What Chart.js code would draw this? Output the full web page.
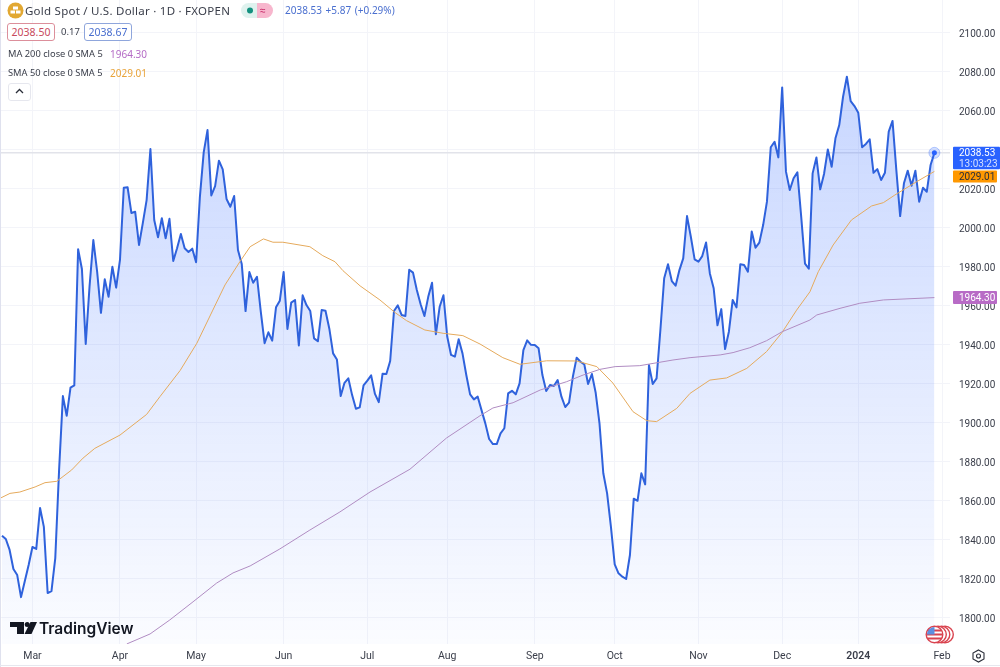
<!DOCTYPE html>
<html lang="en">
<head>
<meta charset="UTF-8">
<title>Gold Spot / U.S. Dollar</title>
<script src="https://cdn.jsdelivr.net/npm/chart.js"></script>
<style>
    html, body { margin: 0; padding: 0; background: #fff; }
    #wrap { position: relative; width: 1000px; height: 667px; overflow: hidden; font-family: "Noto Sans", sans-serif; color: #3a3e4a; }
    #wrap canvas { position: absolute; left: 0; top: 0; }
    .t { position: absolute; white-space: nowrap; line-height: 14px; }
    .box { position: absolute; height: 16px; line-height: 16px; text-align: center; border: 1px solid; border-radius: 3px; font-size: 10.5px; background: #fff; }
    #leftEdge { position: absolute; left: 0; top: 0; width: 1px; height: 667px; background: #dfe1ee; }
    #bottomEdge { position: absolute; left: 0; top: 665px; width: 1000px; height: 1px; background: #e6e7ee; }
</style>
</head>
<body>
<div id="wrap">
    <canvas id="goldChart" width="1000" height="667"></canvas>
    <div id="leftEdge"></div>
    <div id="bottomEdge"></div>

    <svg style="position:absolute;left:7px;top:2px" width="17" height="17" viewBox="0 0 17 17">
        <circle cx="8.5" cy="8.5" r="8" fill="#e2a832"/>
        <rect x="6" y="4.5" width="5" height="3" fill="#fff"/>
        <rect x="3.5" y="8.5" width="4.5" height="3" fill="#fff"/>
        <rect x="9" y="8.5" width="4.5" height="3" fill="#fff"/>
    </svg>
    <div class="t" style="left:25px;top:4px;font-size:11.5px;letter-spacing:.25px">Gold Spot / U.S. Dollar · 1D · FXOPEN</div>
    <svg style="position:absolute;left:241px;top:3px" width="32" height="15" viewBox="0 0 32 15">
        <path d="M7.5 0H16V15H7.5A7.5 7.5 0 0 1 7.5 0Z" fill="#dff2ee"/>
        <path d="M16 0H24.5A7.5 7.5 0 0 1 24.5 15H16Z" fill="#f7b6cd"/>
        <circle cx="9" cy="7.5" r="3" fill="#14917f"/>
    </svg>
    <div class="t" style="left:260px;top:3px;font-size:10px;color:#c2185b">≈</div>
    <div class="t" style="left:285px;top:3px;font-size:10px;color:#4a6fcf;word-spacing:1px">2038.53 +5.87 (+0.29%)</div>

    <div class="box" style="left:7px;top:23px;width:46px;color:#c84a5c;border-color:#dc8f9b">2038.50</div>
    <div class="t" style="left:61px;top:25px;font-size:9.5px">0.17</div>
    <div class="box" style="left:84px;top:23px;width:46px;color:#4a6fcf;border-color:#8fa6dc">2038.67</div>

    <div class="t" style="left:8px;top:47px;font-size:9.3px">MA 200 close 0 SMA 5</div>
    <div class="t" style="left:110px;top:47px;font-size:10px;color:#b56cc6">1964.30</div>
    <div class="t" style="left:8px;top:66px;font-size:9.3px">SMA 50 close 0 SMA 5</div>
    <div class="t" style="left:110px;top:66px;font-size:10px;color:#e8a33a">2029.01</div>
    <div style="position:absolute;left:8px;top:83px;width:21px;height:16px;border:1px solid #e6e7ee;border-radius:3px;background:#fff"></div>
    <svg style="position:absolute;left:15px;top:88px" width="9" height="6" viewBox="0 0 9 6">
        <path d="M1 5L4.5 1.5L8 5" fill="none" stroke="#2a2e39" stroke-width="1.3"/>
    </svg>

    <svg style="position:absolute;left:10px;top:621px" width="27" height="14" viewBox="0 0 27 14">
        <path d="M0 1H14V13H7V6H0Z" fill="#131722"/>
        <circle cx="17.2" cy="3.5" r="2.5" fill="#131722"/>
        <path d="M20.5 1H27L21.5 13H14.5Z" fill="#131722"/>
    </svg>
    <div class="t" style="left:39px;top:620px;line-height:18px;font-family:Inter,sans-serif;font-size:15.5px;font-weight:600;color:#131722">TradingView</div>

    <svg style="position:absolute;left:925px;top:625px" width="30" height="19" viewBox="0 0 30 19">
        <circle cx="20" cy="9.5" r="8.3" fill="#fff" stroke="#d9434f" stroke-width="1.4"/>
        <circle cx="16.5" cy="9.5" r="8.3" fill="#fff" stroke="#d9434f" stroke-width="1.4"/>
        <circle cx="13" cy="9.5" r="8.3" fill="#fff" stroke="#d9434f" stroke-width="1.4"/>
        <circle cx="9.5" cy="9.5" r="8.3" fill="#fff" stroke="#d9434f" stroke-width="1.4"/>
        <path d="M2.5 5.5H16.5M1.6 9.5H17.4M2.5 13.5H16.5" stroke="#d9434f" stroke-width="1.8"/>
        <path d="M9.5 1.9A7.6 7.6 0 0 0 2 9.5H9.5Z" fill="#5d8fe0"/>
    </svg>
    <svg style="position:absolute;left:972px;top:649px" width="13" height="14" viewBox="0 0 13 14">
        <path d="M6.5 1L12 4V10L6.5 13L1 10V4Z" fill="none" stroke="#2a2e39" stroke-width="1.1"/>
        <circle cx="6.5" cy="7" r="2" fill="none" stroke="#2a2e39" stroke-width="1.1"/>
    </svg>
</div>

<script>
// daily closes
const closes = [
    1842.2, 1840.5, 1834.9, 1825.1, 1822.0, 1810.7, 1819.0, 1827.2, 1836.4, 1835.4,
    1856.4, 1846.7, 1812.8, 1813.8, 1830.7, 1875.9, 1913.8, 1903.7, 1918.1, 1919.3,
    1989.1, 1979.0, 1940.5, 1969.9, 1993.8, 1977.6, 1956.5, 1973.7, 1964.7, 1980.1,
    1969.4, 1983.6, 2020.6, 2020.9, 2007.7, 2008.3, 1991.3, 2002.5, 2014.3, 2040.5,
    2004.1, 1995.2, 2005.0, 1994.7, 2004.7, 1983.1, 1989.6, 1996.9, 1989.6, 1987.7,
    1989.4, 1982.4, 2016.0, 2038.8, 2050.2, 2016.7, 2021.5, 2034.5, 2030.1, 2014.9,
    2010.9, 2016.4, 1988.7, 1981.5, 1957.4, 1977.4, 1971.9, 1975.0, 1957.1, 1940.9,
    1946.5, 1942.2, 1959.3, 1962.7, 1977.4, 1948.2, 1961.7, 1963.1, 1939.8, 1965.5,
    1960.5, 1957.4, 1943.4, 1941.9, 1957.9, 1957.6, 1948.5, 1935.7, 1932.6, 1913.8,
    1920.6, 1922.9, 1914.3, 1907.3, 1908.0, 1919.3, 1921.7, 1924.4, 1914.9, 1910.7,
    1925.3, 1925.1, 1931.8, 1957.4, 1960.3, 1955.4, 1954.9, 1978.6, 1977.1, 1968.2,
    1960.9, 1954.9, 1964.7, 1971.9, 1945.5, 1959.6, 1965.5, 1944.2, 1934.9, 1934.0,
    1942.9, 1935.7, 1924.6, 1914.7, 1912.1, 1913.5, 1906.6, 1899.8, 1891.8, 1889.2,
    1889.2, 1894.7, 1897.3, 1915.2, 1916.5, 1914.7, 1920.3, 1937.4, 1942.4, 1940.1,
    1940.0, 1938.3, 1924.6, 1916.4, 1919.5, 1919.0, 1922.0, 1913.5, 1908.2, 1910.4,
    1923.7, 1933.5, 1931.4, 1930.1, 1920.0, 1925.1, 1915.5, 1899.8, 1874.2, 1863.9,
    1846.8, 1827.5, 1822.9, 1821.2, 1820.0, 1832.3, 1861.2, 1860.1, 1874.2, 1868.5,
    1929.7, 1920.0, 1922.9, 1947.7, 1974.2, 1981.4, 1972.8, 1970.4, 1978.4, 1984.4,
    2006.1, 1995.5, 1983.9, 1982.7, 1985.6, 1992.6, 1976.7, 1969.1, 1950.1, 1958.4,
    1937.9, 1946.8, 1963.1, 1959.3, 1981.4, 1981.0, 1977.6, 1998.2, 1989.9, 1992.5,
    2001.5, 2013.5, 2041.4, 2044.2, 2036.2, 2072.1, 2028.9, 2019.5, 2025.5, 2028.5,
    2005.8, 1981.7, 1979.1, 2028.0, 2036.2, 2019.8, 2027.7, 2040.3, 2031.4, 2046.0,
    2052.8, 2067.3, 2077.6, 2065.1, 2062.5, 2059.1, 2041.4, 2043.1, 2045.5, 2028.3,
    2030.2, 2024.6, 2028.3, 2049.4, 2054.9, 2029.7, 2006.1, 2022.9, 2029.4, 2021.7,
    2029.4, 2013.5, 2020.6, 2018.6, 2032.3, 2038.53
];

// moving averages, read at the bars where they bend
const sma50Bars = [-0.5, 2.1, 4.7, 8.7, 11.3, 14.4, 18.3, 21.3, 24.4, 31, 38, 41.5, 46.8, 51.2, 55.4, 58.6, 62.5, 65.2, 68.7, 71.2, 73.8, 80.9, 84.3, 87.5, 89.6, 94.1, 99.3, 103.3, 106.3, 111.1, 115.9, 121.1, 125.6, 131.6, 136.1, 143.1, 151, 156.3, 160.5, 165.8, 169.4, 172, 177.3, 180.8, 186, 190.4, 195.7, 200.9, 205, 208.8, 212.3, 214.5, 218.4, 223.2, 228.5, 231.6, 234.6, 240.3, 245];
const sma50Values = [1861.4, 1863.9, 1864.6, 1867.2, 1869.4, 1870.1, 1875.9, 1882.0, 1887.0, 1893.8, 1904.4, 1913.5, 1926.9, 1940.9, 1957.9, 1970.8, 1982.7, 1990.4, 1994.4, 1992.7, 1992.7, 1990.4, 1985.8, 1982.7, 1978.1, 1970.3, 1963.1, 1956.6, 1952.5, 1947.7, 1946.0, 1944.8, 1940.5, 1933.5, 1930.1, 1931.9, 1931.8, 1928.9, 1920.5, 1905.8, 1901.2, 1900.7, 1907.5, 1915.2, 1922.0, 1923.1, 1928.0, 1936.6, 1946.5, 1957.9, 1967.3, 1977.6, 1991.3, 2004.1, 2011.3, 2013.0, 2016.9, 2023.7, 2029.01];
const sma200Bars = [32.8, 38.9, 44.1, 50.2, 56.4, 60.7, 65.2, 73, 80.9, 88.8, 96.7, 107.2, 116.8, 125.6, 129, 134.3, 141.4, 148.4, 152.7, 157.1, 161.1, 167.6, 176.3, 180.8, 188.7, 192.1, 196.5, 200.9, 205, 212.3, 214.1, 220.2, 225.4, 231.6, 245];
const sma200Values = [1786.7, 1791.8, 1799.0, 1808.3, 1817.9, 1823.1, 1826.7, 1835.4, 1845.1, 1854.4, 1864.6, 1876.3, 1892.3, 1903.7, 1907.7, 1910.4, 1916.9, 1921.2, 1924.6, 1927.5, 1928.9, 1929.4, 1932.3, 1933.5, 1934.9, 1936.1, 1938.6, 1942.2, 1946.8, 1952.8, 1955.4, 1958.8, 1961.4, 1963.1, 1964.30];

const monthBars = [8, 31, 51, 74, 96, 117, 140, 161, 183, 205, 225, 247];
const monthLabels = ['Mar', 'Apr', 'May', 'Jun', 'Jul', 'Aug', 'Sep', 'Oct', 'Nov', 'Dec', '2024', 'Feb'];
const priceTicks = [1800, 1820, 1840, 1860, 1880, 1900, 1920, 1940, 1960, 1980, 2000, 2020, 2040, 2060, 2080, 2100];
// this one sits behind the last price tag
const hiddenPriceLabel = 2040;

const lastClose = 2038.53;
const lastSma50 = 2029.01;
const lastSma200 = 1964.30;
const countdown = '13:03:23';

const xMin = -0.525, xMax = 249.1;
const yMin = 1786.66, yMax = 2116.92;

const AXIS_FONT = 'Roboto, sans-serif';

function pairs(xs, ys) {
    return xs.map((x, i) => ({ x: x, y: ys[i] }));
}

// area under the close line fades out towards the bottom of the pane
function areaGradient(context) {
    const chart = context.chart;
    if (!chart.chartArea) return 'rgba(41,98,255,0.1)';
    const top = chart.scales.y.getPixelForValue(Math.max(...closes));
    const g = chart.ctx.createLinearGradient(0, top, 0, chart.chartArea.bottom);
    g.addColorStop(0, 'rgba(41,98,255,0.26)');
    g.addColorStop(1, 'rgba(41,98,255,0.02)');
    return g;
}

// price tags on the right hand axis
const priceTags = {
    id: 'priceTags',
    afterDraw(chart) {
        const ctx = chart.ctx;
        const y = chart.scales.y;
        const tag = (top, h, width, fill) => {
            ctx.fillStyle = fill;
            ctx.beginPath();
            ctx.roundRect(953, top, width, h, 1);
            ctx.fill();
        };
        const text = (str, cy, color) => {
            ctx.fillStyle = color;
            ctx.font = '10px ' + AXIS_FONT;
            ctx.textAlign = 'left';
            ctx.textBaseline = 'middle';
            ctx.fillText(str, 959, cy + 1);
        };
        ctx.save();
        const lastY = y.getPixelForValue(lastClose);
        tag(lastY - 6, 22.5, 47, '#2962ff');
        text(lastClose.toFixed(2), lastY, '#ffffff');
        text(countdown, lastY + 11, '#d5e0ff');
        const smaY = y.getPixelForValue(lastSma50) + 5;
        tag(smaY - 6, 12, 44, '#ff9800');
        text(lastSma50.toFixed(2), smaY, '#2a2e39');
        const maY = y.getPixelForValue(lastSma200);
        tag(maY - 6.5, 13, 44, '#b86bc6');
        text(lastSma200.toFixed(2), maY, '#ffffff');
        ctx.restore();
    }
};

const closePoints = pairs(closes.map((c, i) => i), closes);

new Chart(document.getElementById('goldChart').getContext('2d'), {
    type: 'line',
    data: {
        datasets: [
            {
                label: 'Last price',
                data: pairs([xMin, xMax], [lastClose, lastClose]),
                borderColor: '#e2e3ea',
                borderWidth: 1.5,
                pointRadius: 0,
                order: 4
            },
            {
                label: 'Gold Spot',
                data: closePoints,
                borderColor: '#2f62dc',
                borderWidth: 2,
                borderJoinStyle: 'round',
                backgroundColor: areaGradient,
                fill: 'start',
                tension: 0,
                pointRadius: 0,
                order: 3
            },
            {
                label: 'SMA 50',
                data: pairs(sma50Bars, sma50Values),
                borderColor: '#e5aa5c',
                borderWidth: 1,
                pointRadius: 0,
                order: 2
            },
            {
                label: 'MA 200',
                data: pairs(sma200Bars, sma200Values),
                borderColor: '#b08cc2',
                borderWidth: 1,
                pointRadius: 0,
                order: 1
            },
            {
                label: 'Last point',
                data: pairs([closes.length - 1], [lastClose]),
                showLine: false,
                pointRadius: 5.5,
                pointBackgroundColor: 'rgba(41,98,255,0.2)',
                pointBorderColor: 'rgba(41,98,255,0.3)',
                pointBorderWidth: 1,
                order: 0
            },
            {
                label: 'Last point core',
                data: pairs([closes.length - 1], [lastClose]),
                showLine: false,
                pointRadius: 2.5,
                pointBackgroundColor: '#2962ff',
                pointBorderWidth: 0,
                order: -1
            }
        ]
    },
    options: {
        responsive: false,
        animation: false,
        parsing: false,
        layout: { padding: 0, autoPadding: false },
        plugins: { legend: { display: false }, tooltip: { enabled: false } },
        scales: {
            x: {
                type: 'linear',
                min: xMin,
                max: xMax,
                afterBuildTicks(scale) {
                    scale.ticks = monthBars.map(v => ({ value: v }));
                },
                afterFit(scale) {
                    scale.height = 23;
                    // no room kept for half a label at the plot edges
                    scale.paddingLeft = 0;
                    scale.paddingRight = 0;
                },
                grid: { color: '#f3f4f9', drawTicks: false },
                border: { display: false },
                ticks: {
                    autoSkip: false,
                    maxRotation: 0,
                    padding: 6,
                    color: '#3a3e4a',
                    font: ctx => ({ family: AXIS_FONT, size: 10.5, weight: monthLabels[ctx.index] === '2024' ? '600' : '400' }),
                    callback: (value, index) => monthLabels[index]
                }
            },
            y: {
                position: 'right',
                min: yMin,
                max: yMax,
                afterBuildTicks(scale) {
                    scale.ticks = priceTicks.map(v => ({ value: v }));
                },
                afterFit(scale) {
                    scale.width = 50;
                    scale.paddingTop = 0;
                    scale.paddingBottom = 0;
                },
                grid: { color: '#f3f4f9', drawTicks: false },
                border: { display: false },
                ticks: {
                    autoSkip: false,
                    padding: 9,
                    labelOffset: 1.5,
                    color: '#3a3e4a',
                    font: { family: AXIS_FONT, size: 10 },
                    callback: value => value === hiddenPriceLabel ? '' : value.toFixed(2)
                }
            }
        }
    },
    plugins: [priceTags]
});
</script>
</body>
</html>
